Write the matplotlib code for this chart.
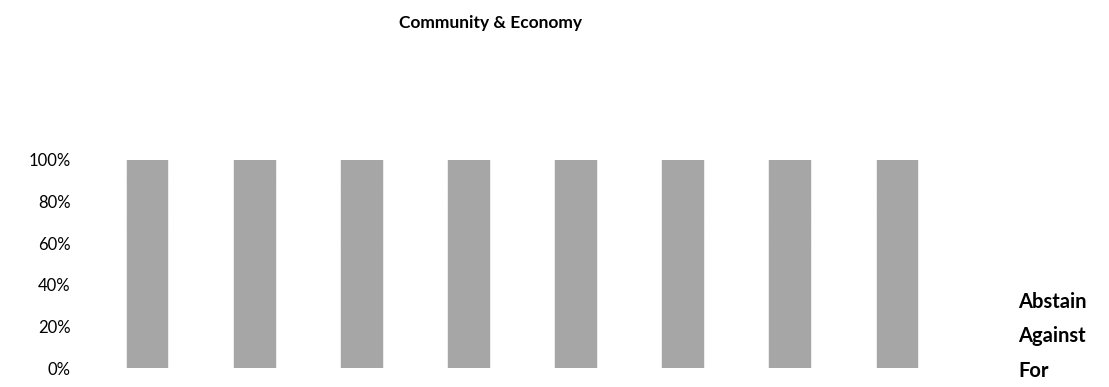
import matplotlib

matplotlib.use("Agg")
import matplotlib.pyplot as plt
import numpy as np

plt.rcParams["font.family"] = ["Lato", "DejaVu Sans"]

# share of votes per motion (all series drawn in the same grey)
motions = ["1", "2", "3", "4", "5", "6", "7", "8"]
vote_for = [0.69, 0.81, 0.58, 0.80, 0.81, 0.64, 0.58, 0.76]
vote_against = [0.20, 0.08, 0.28, 0.05, 0.10, 0.07, 0.15, 0.06]
vote_abstain = [0.11, 0.11, 0.14, 0.15, 0.09, 0.29, 0.27, 0.18]
series_names = ["For", "Against", "Abstain"]

fig = plt.figure(figsize=(11.09, 3.87), dpi=100)
ax = fig.add_axes([0.0848, 0.049, 0.7727, 0.5376])

x = np.arange(len(motions))
grey = "#a6a6a6"
bottom = np.zeros(len(motions))
for name, vals in zip(series_names, [vote_for, vote_against, vote_abstain]):
    ax.bar(x, vals, width=0.39, bottom=bottom, color=grey, edgecolor=grey,
           linewidth=0.3, label=name)
    bottom += np.array(vals)

ax.set_xlim(-0.5, len(motions) - 0.5)
ax.set_ylim(0, 1)
ticks = np.arange(0, 1.01, 0.2)
ax.set_yticks(ticks)
ax.set_yticklabels([f"{int(round(v * 100))}%" for v in ticks])
ax.tick_params(axis="y", length=0, pad=17, labelsize=12)
ax.set_xticks([])
for s in ax.spines.values():
    s.set_visible(False)

# legend: text only, top entry Abstain
for i, name in enumerate(["Abstain", "Against", "For"]):
    fig.text(1018 / 1109, 1 - (302 + i * 34.5) / 387, name, fontsize=14.5,
             fontweight="bold", va="center", ha="left")

fig.text(490 / 1109, 1 - 23 / 387, "Community & Economy", fontsize=12.5,
         fontweight="bold", ha="center", va="center")

fig.savefig("out.png", dpi=100)
